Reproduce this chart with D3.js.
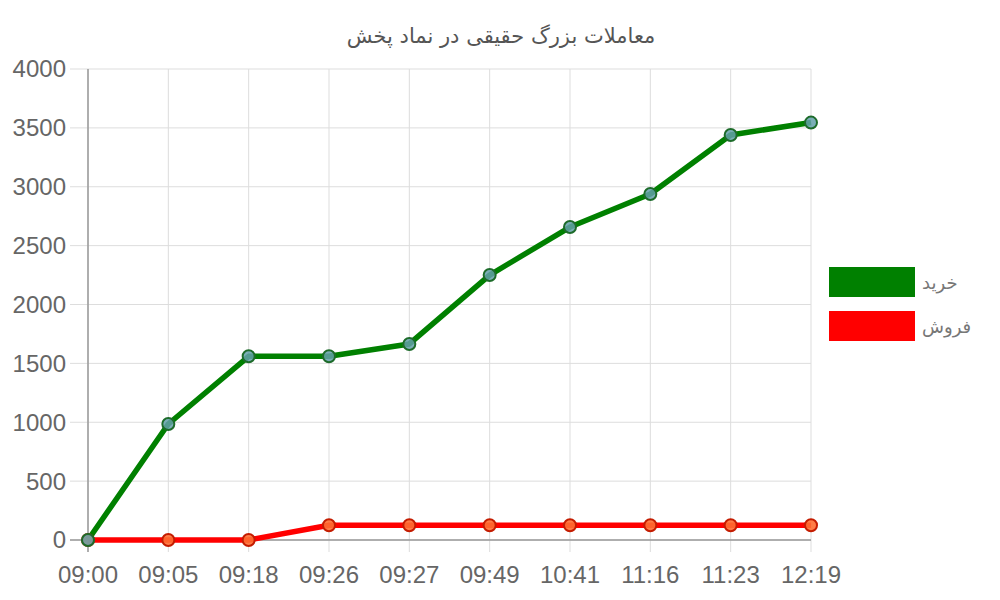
<!DOCTYPE html>
<html><head><meta charset="utf-8">
<script src="https://cdn.jsdelivr.net/npm/d3@7"></script>
<style>body{margin:0;background:#fff;}</style>
</head><body>
<svg id="c" width="1000" height="600"></svg>
<script>
const categories = ["09:00","09:05","09:18","09:26","09:27","09:49","10:41","11:16","11:23","12:19"];
const buyValues = [0, 985, 1560, 1560, 1665, 2250, 2658, 2938, 3440, 3545];
const sellValues = [0, 0, 0, 125, 125, 125, 125, 125, 125, 125];
const yTicks = [0,500,1000,1500,2000,2500,3000,3500,4000];
const seriesNames = ["خرید","فروش"];
const title = "معاملات بزرگ حقیقی در نماد پخش";

const svg = d3.select("#c");
const x = d3.scalePoint().domain(categories).range([88, 811]);
const y = d3.scaleLinear().domain([0,4000]).range([540, 69]);

// grid
svg.append("g").selectAll("line").data(yTicks).join("line")
  .attr("x1", 70).attr("x2", 811).attr("y1", d=>y(d)).attr("y2", d=>y(d))
  .attr("stroke", "#ddd").attr("stroke-width", 1);
svg.append("g").selectAll("line").data(categories).join("line")
  .attr("x1", d=>x(d)).attr("x2", d=>x(d)).attr("y1", 69).attr("y2", 552)
  .attr("stroke", "#ddd").attr("stroke-width", 1);
// axis lines
svg.append("line").attr("x1",88).attr("x2",88).attr("y1",69).attr("y2",552).attr("stroke","#999").attr("stroke-width",1.5);
svg.append("line").attr("x1",70).attr("x2",811).attr("y1",540).attr("y2",540).attr("stroke","#999").attr("stroke-width",1.5);

// tick labels
svg.append("g").selectAll("text").data(yTicks).join("text")
  .attr("x", 66).attr("y", d=>y(d)).attr("dy","0.35em").attr("text-anchor","end")
  .attr("font-family","Liberation Sans, Arial, sans-serif").attr("font-size",24).attr("fill","#666")
  .text(d=>d);
svg.append("g").selectAll("text").data(categories).join("text")
  .attr("x", d=>x(d)).attr("y", 583).attr("text-anchor","middle")
  .attr("font-family","Liberation Sans, Arial, sans-serif").attr("font-size",24).attr("fill","#666")
  .text(d=>d);

// title
svg.append("text").attr("x", 501).attr("y", 43).attr("text-anchor","middle")
  .attr("font-family","DejaVu Sans, sans-serif").attr("font-size",21).attr("fill","#555")
  .attr("direction","rtl").text(title);

const series = [
  {name: seriesNames[0], values: buyValues, color: "#008000", stroke: "#1d6b2a", fill: "rgba(100,160,170,0.85)"},
  {name: seriesNames[1], values: sellValues, color: "#ff0000", stroke: "#c41c00", fill: "rgba(255,110,50,0.9)"}
];
const line = d3.line().x((d,i)=>x(categories[i])).y(d=>y(d));
[series[1], series[0]].forEach(s => {
  svg.append("path").datum(s.values).attr("d", line).attr("fill","none")
    .attr("stroke", s.color).attr("stroke-width", 5.5).attr("stroke-linejoin","round");
});
[series[1], series[0]].forEach(s => {
  svg.append("g").selectAll("circle").data(s.values).join("circle")
    .attr("cx", (d,i)=>x(categories[i])).attr("cy", d=>y(d)).attr("r", 6)
    .attr("fill", s.fill).attr("stroke", s.stroke).attr("stroke-width", 2);
});

// legend
const lg = svg.append("g");
series.forEach((s,i) => {
  lg.append("rect").attr("x", 829).attr("y", 267 + i*44).attr("width", 86).attr("height", 30).attr("fill", s.color);
  lg.append("text").attr("x", 922).attr("y", 289 + i*44).attr("text-anchor","start")
    .attr("font-family","DejaVu Sans, sans-serif").attr("font-size",18).attr("fill","#777")
    .attr("letter-spacing", 6).text(s.name);
});
</script>
</body></html>
